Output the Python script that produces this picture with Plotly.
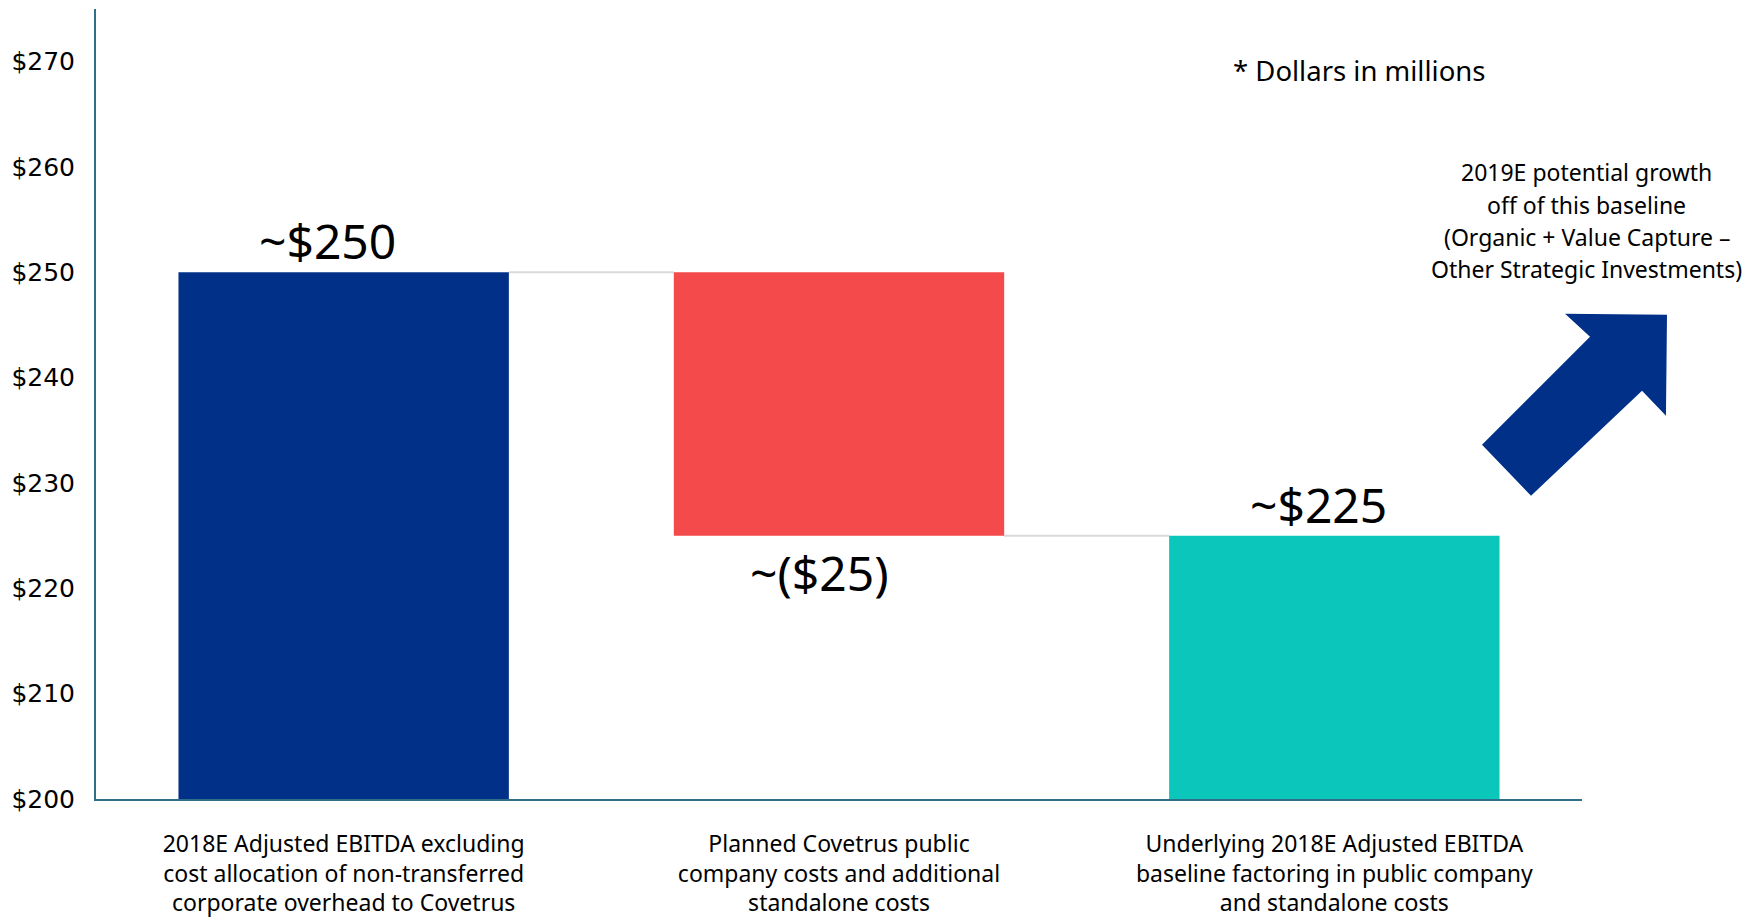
import plotly.graph_objects as go

# ---- data ----
categories = [
    "2018E Adjusted EBITDA excluding<br>cost allocation of non-transferred<br>corporate overhead to Covetrus",
    "Planned Covetrus public<br>company costs and additional<br>standalone costs",
    "Underlying 2018E Adjusted EBITDA<br>baseline factoring in public company<br>and standalone costs",
]
measures = ["absolute", "relative", "total"]
values = [250, -25, 225]
value_labels = ["~$250", "~($25)", "~$225"]
bar_colors = ["#003087", "#F44A4C", "#0BC6BA"]
y_ticks = [200, 210, 220, 230, 240, 250, 260, 270]
y_tick_labels = ["$200", "$210", "$220", "$230", "$240", "$250", "$260", "$270"]
y_min, y_max = 200, 275
note_text = "* Dollars in millions"
arrow_text = ["2019E potential growth", "off of this baseline",
              "(Organic + Value Capture \u2013", "Other Strategic Investments)"]

# ---- waterfall geometry from data ----
bases, heights, running = [], [], 0
ends = []
for m, v in zip(measures, values):
    if m == "absolute":
        start, end = y_min, v
        running = v
    elif m == "relative":
        start, end = running, running + v
        running = running + v
    else:
        start, end = y_min, running
    lo, hi = min(start, end), max(start, end)
    bases.append(lo)
    heights.append(hi - lo)
    ends.append(running)

bargap = 0.333
fig = go.Figure()
fig.add_trace(go.Bar(
    x=categories, y=heights, base=bases,
    marker=dict(color=bar_colors, line=dict(width=0)),
    hoverinfo="skip", showlegend=False,
))

# connectors
half = (1 - bargap) / 2
for i in range(len(categories) - 1):
    fig.add_shape(type="line", xref="x", yref="y",
                  x0=i + half, x1=i + 1 - half, y0=ends[i], y1=ends[i],
                  line=dict(color="#D9D9D9", width=2), layer="below")

# value labels
label_font = dict(family="Noto Sans", size=48, color="black")
for i, (m, v, t) in enumerate(zip(measures, values, value_labels)):
    top = bases[i] + heights[i]
    if m == "relative" and v < 0:
        fig.add_annotation(x=i, y=bases[i], text=t, showarrow=False,
                           yanchor="top", xshift=-20, yshift=-2, font=label_font)
    else:
        fig.add_annotation(x=i, y=top, text=t, showarrow=False,
                           yanchor="bottom", xshift=-16, yshift=-3, font=label_font)

# note
fig.add_annotation(xref="paper", yref="paper", x=0.850, y=0.9225, text=note_text,
                   showarrow=False, xanchor="center", yanchor="middle",
                   font=dict(family="Noto Sans", size=27.5, color="black"))

# arrow text lines
line_y_px = [172, 205, 237, 269]
for txt, py in zip(arrow_text, line_y_px):
    fig.add_annotation(xref="paper", yref="paper", x=(1587 - 95.6) / 1486.4,
                       y=(799.5 - py) / 790.5, text=txt, showarrow=False,
                       xanchor="center", yanchor="middle",
                       font=dict(family="Noto Sans", size=23, color="black"))

# arrow shape
pts = [(1565, 314), (1667, 315), (1666, 416), (1642, 391), (1531, 496), (1482, 445), (1590, 337)]
path = "M " + " L ".join(f"{(px - 95.6) / 1486.4:.4f},{(799.5 - py) / 790.5:.4f}" for px, py in pts) + " Z"
fig.add_shape(type="path", xref="paper", yref="paper", path=path,
              fillcolor="#003087", line=dict(width=0))

axis_color = "#2F6F8A"
fig.update_layout(
    width=1763, height=919,
    margin=dict(l=96, r=181, t=9, b=120),
    plot_bgcolor="white", paper_bgcolor="white",
    bargap=bargap, showlegend=False,
    xaxis=dict(showline=True, linecolor=axis_color, linewidth=2, showgrid=False,
               zeroline=False, ticks="outside", ticklen=23, tickcolor="rgba(0,0,0,0)",
               tickfont=dict(family="Noto Sans", size=23, color="black"),
               range=[-0.5, 2.5], automargin=False),
    yaxis=dict(showline=True, linecolor=axis_color, linewidth=2, showgrid=False,
               zeroline=False, range=[y_min, y_max], tickmode="array",
               tickvals=y_ticks, ticktext=y_tick_labels, automargin=False,
               ticks="outside", ticklen=14, tickcolor="rgba(0,0,0,0)",
               tickfont=dict(family="DejaVu Sans", size=25, color="black")),
)

fig.write_html("out.html")
